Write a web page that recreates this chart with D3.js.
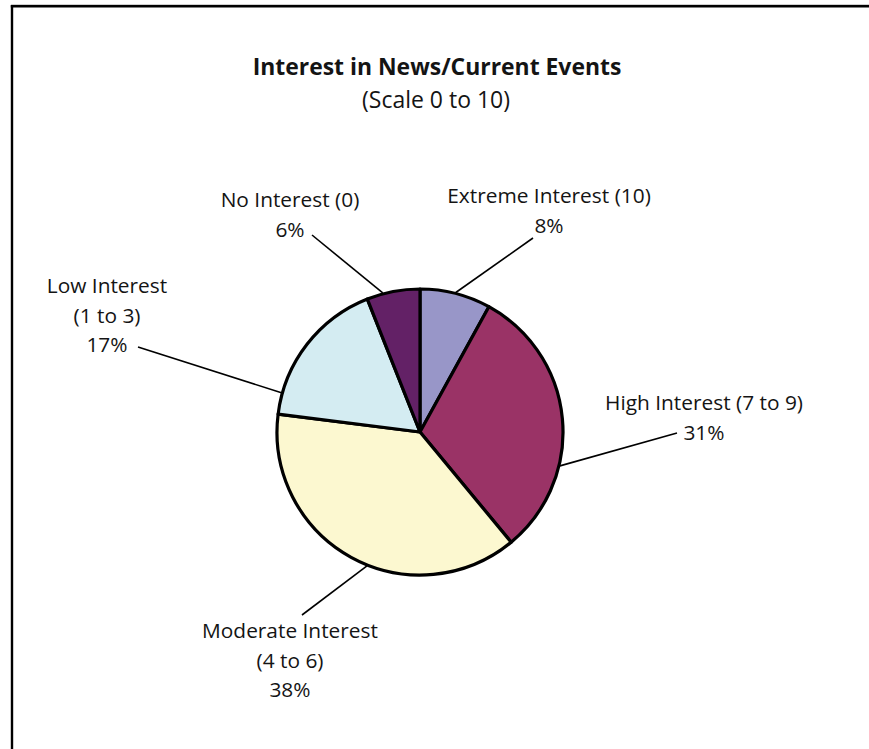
<!DOCTYPE html>
<html>
<head>
<meta charset="utf-8">
<script src="https://cdn.jsdelivr.net/npm/d3@7"></script>
<style>
  html, body { margin: 0; padding: 0; background: #fff; }
  svg { display: block; }
  text { font-family: "Open Sans", Lato, sans-serif; fill: #141414; }
</style>
</head>
<body>
<svg id="chart" width="869" height="749"></svg>
<script>
// Survey shares, clockwise from 12 o'clock
const categories = ["Extreme Interest", "High Interest", "Moderate Interest", "Low Interest", "No Interest"];
const scaleNotes = ["(10)", "(7 to 9)", "(4 to 6)", "(1 to 3)", "(0)"];
const values = [8, 31, 38, 17, 6];
const sliceColors = ["#9896c8", "#9a3366", "#fcf8d0", "#d4ecf2", "#632166"];

const titleText = "Interest in News/Current Events";
const subtitleText = "(Scale 0 to 10)";

// Label placement: text centre, first baseline, whether the scale note
// shares the first line, leader-line anchor near the text and its angle on the rim
const labelLayout = [
  { x: 549, y: 203, inline: true,  tip: [533, 238], rimDeg: 14.4 },
  { x: 704, y: 410, inline: true,  tip: [677, 433], rimDeg: 103.6 },
  { x: 290, y: 638, inline: false, tip: [302, 615], rimDeg: 201.6 },
  { x: 107, y: 293, inline: false, tip: [138, 347], rimDeg: 285.8 },
  { x: 290, y: 207, inline: true,  tip: [312, 235], rimDeg: 345.0 }
];

const svg = d3.select("#chart");
const cx = 420, cy = 432, radius = 143;
const lineGap = 29.5;

// Pick a font size so that a sample string spans the wanted width
function fitSize(sample, width, weight) {
  const probe = svg.append("text").style("font-size", "20px").style("font-weight", weight).text(sample);
  const w = probe.node().getComputedTextLength();
  probe.remove();
  return 20 * width / w;
}
const titleSize = fitSize(titleText, 369, "bold");
const subSize = fitSize(subtitleText, 148, "normal");
const labelSize = fitSize("Moderate Interest", 176, "normal");

// Frame: top and left rules
svg.append("line").attr("x1", 11).attr("x2", 869).attr("y1", 4.5).attr("y2", 4.5)
  .attr("stroke", "#cfcfcf").attr("stroke-width", 1);
svg.append("line").attr("x1", 10.8).attr("x2", 869).attr("y1", 6.3).attr("y2", 6.3)
  .attr("stroke", "#000").attr("stroke-width", 2.4);
svg.append("line").attr("x1", 12).attr("x2", 12).attr("y1", 5.2).attr("y2", 749)
  .attr("stroke", "#000").attr("stroke-width", 2.4);

// Titles
svg.append("text").attr("x", 437).attr("y", 75).attr("text-anchor", "middle")
  .style("font-weight", "bold").style("font-size", `${titleSize}px`).text(titleText);
svg.append("text").attr("x", 436).attr("y", 108).attr("text-anchor", "middle")
  .style("font-size", `${subSize}px`).text(subtitleText);

// Pie
const data = categories.map((c, i) => ({ name: c, note: scaleNotes[i], value: values[i], color: sliceColors[i] }));
const pie = d3.pie().value(d => d.value).sort(null).startAngle(0).endAngle(2 * Math.PI);
const arc = d3.arc().innerRadius(0).outerRadius(radius);
const arcs = pie(data);

const g = svg.append("g").attr("transform", `translate(${cx},${cy})`);
g.selectAll("path.slice")
  .data(arcs)
  .join("path")
  .attr("class", "slice")
  .attr("d", arc)
  .attr("fill", d => d.data.color)
  .attr("stroke", "#000")
  .attr("stroke-width", 3.2)
  .attr("stroke-linejoin", "round");

// Leader lines and labels
const fmt = d => `${d}%`;
arcs.forEach((a, i) => {
  const L = labelLayout[i];
  const t = L.rimDeg * Math.PI / 180;
  const rx = cx + (radius + 1) * Math.sin(t);
  const ry = cy - (radius + 1) * Math.cos(t);
  svg.append("line")
    .attr("x1", L.tip[0]).attr("y1", L.tip[1])
    .attr("x2", rx).attr("y2", ry)
    .attr("stroke", "#000").attr("stroke-width", 1.6);

  const lines = L.inline
    ? [`${a.data.name} ${a.data.note}`, fmt(a.data.value)]
    : [a.data.name, a.data.note, fmt(a.data.value)];
  const txt = svg.append("text")
    .attr("text-anchor", "middle")
    .style("font-size", `${labelSize}px`);
  lines.forEach((s, k) => {
    txt.append("tspan").attr("x", L.x).attr("y", L.y + k * lineGap).text(s);
  });
});
</script>
</body>
</html>
